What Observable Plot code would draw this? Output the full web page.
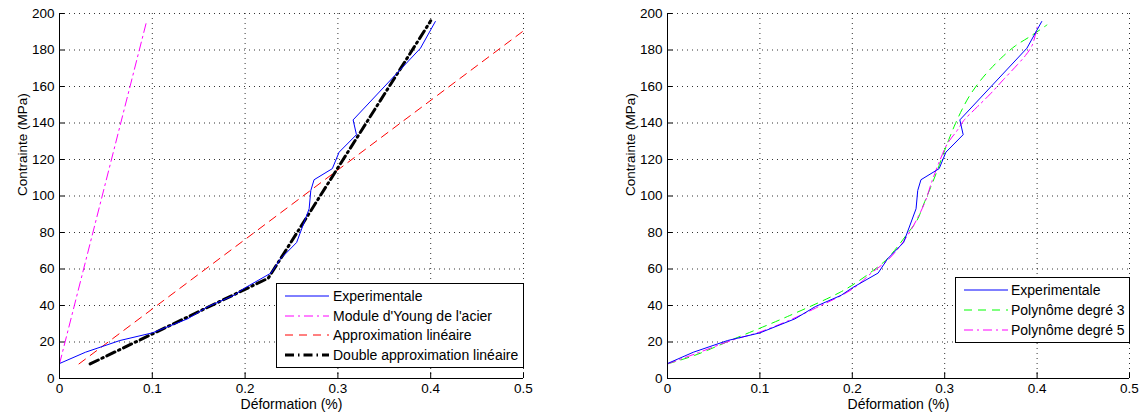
<!DOCTYPE html>
<html><head><meta charset="utf-8">
<script src="https://cdn.jsdelivr.net/npm/d3@7"></script>
<script src="https://cdn.jsdelivr.net/npm/@observablehq/plot@0.6"></script>
<style>
body{margin:0;background:#fff;font-family:"Liberation Sans",Arial,sans-serif;}
#wrap{position:relative;width:1143px;height:419px;overflow:hidden;background:#fff}
.panel{position:absolute;top:0}
.legend{position:absolute;border:1px solid #000;background:#fff;box-sizing:border-box;font-size:14px;color:#000}
.legend .row{position:absolute;left:0;height:20px;line-height:20px;white-space:nowrap}
.legend svg{position:absolute;top:0}
.legend span{position:absolute;top:0}
</style></head><body><div id="wrap"></div>
<script>
// ---- data ----
const xTicks = [0, 0.1, 0.2, 0.3, 0.4, 0.5];
const yTicks = [0, 20, 40, 60, 80, 100, 120, 140, 160, 180, 200];
const xLabel = "Déformation (%)";
const yLabel = "Contrainte (MPa)";

const expX = [0, 0.028, 0.065, 0.1, 0.138, 0.16, 0.188, 0.2, 0.228, 0.238, 0.2555, 0.269, 0.2708, 0.2743, 0.294, 0.3013, 0.32, 0.3164, 0.389, 0.405];
const expY = [8.2, 14.4, 20.8, 25, 32.7, 39.4, 45.6, 49.7, 57.8, 65.5, 74.5, 93, 103, 108.9, 115, 124, 133.6, 141.7, 181, 195.6];

const youngX = [0, 0.0935];
const youngY = [8, 195];

const linX = [0.021, 0.5];
const linY = [8, 190.5];

const dblX = [0.033, 0.225, 0.4];
const dblY = [8, 55, 196];

const poly3X = [0, 0.029, 0.072, 0.13, 0.187, 0.205, 0.22, 0.236, 0.2486, 0.2595, 0.27, 0.2774, 0.2846, 0.292, 0.2985, 0.3045, 0.3117, 0.319, 0.327, 0.3387, 0.3495, 0.362, 0.3765, 0.3927, 0.4106];
const poly3Y = [8, 12.6, 21.7, 34, 47.3, 52.8, 58.2, 64.7, 72, 79.3, 86.6, 95.7, 104.5, 114, 123, 131, 139.8, 147.6, 155, 163.3, 169.6, 176, 182.3, 187.5, 193.7];

const poly5X = [0, 0.03, 0.07, 0.1, 0.13, 0.16, 0.2, 0.2216, 0.238, 0.2522, 0.263, 0.272, 0.2793, 0.2865, 0.2955, 0.3027, 0.3135, 0.3207, 0.335, 0.3495, 0.364, 0.3784, 0.3874, 0.3946, 0.4];
const poly5Y = [8, 13.5, 21, 25.5, 31.5, 38.5, 49, 58.2, 64.7, 72.9, 81, 89.3, 97.5, 108.5, 120.4, 128.5, 135.9, 141.4, 148.7, 156, 164, 171.8, 177, 182.5, 192.5];

const leftNames = ["Experimentale", "Module d'Young de l'acier", "Approximation linéaire", "Double approximation linéaire"];
const rightNames = ["Experimentale", "Polynôme degré 3", "Polynôme degré 5"];

// ---- helpers ----
const tbl = (xs, ys) => xs.map((x, i) => ({x, y: ys[i]}));
const styles = {
  exp:   {stroke: "#0000ff", strokeWidth: 1},
  young: {stroke: "#ff00ff", strokeWidth: 1, strokeDasharray: "9,4,2,4"},
  lin:   {stroke: "#ff0000", strokeWidth: 1, strokeDasharray: "8,6"},
  dbl:   {stroke: "#000000", strokeWidth: 3, strokeDasharray: "9,4,1.5,4"},
  p3:    {stroke: "#00ff00", strokeWidth: 1, strokeDasharray: "8,6"},
  p5:    {stroke: "#ff00ff", strokeWidth: 1, strokeDasharray: "9,4,2,4"}
};

function panel(width, marginLeft, marginRight, lines) {
  return Plot.plot({
    width, height: 419, marginTop: 13, marginBottom: 41, marginLeft, marginRight,
    style: {fontFamily: "'Liberation Sans', Arial, sans-serif", fontSize: "13.5px", background: "white", color: "#000"},
    x: {domain: [0, 0.5]},
    y: {domain: [0, 200]},
    marks: [
      Plot.gridX(xTicks, {stroke: "#000", strokeOpacity: 0.8, strokeDasharray: "1,4"}),
      Plot.gridY(yTicks, {stroke: "#000", strokeOpacity: 0.8, strokeDasharray: "1,4"}),
      Plot.ruleX(xTicks, {y1: 0, y2: 3.2, stroke: "#000"}),
      Plot.ruleY(yTicks, {x1: 0, x2: 0.006, stroke: "#000"}),
      ...lines.map(([xs, ys, st, curve]) => Plot.line(tbl(xs, ys), {x: "x", y: "y", ...st, curve: curve || "linear", clip: true})),
      Plot.ruleX([0], {stroke: "#000"}),
      Plot.ruleY([0], {stroke: "#000"}),
      Plot.axisX(xTicks, {tickSize: 0, tickPadding: 5, tickFormat: d => String(d), label: null, fontSize: 13.5}),
      Plot.axisY(yTicks, {tickSize: 0, tickPadding: 5, tickFormat: d => String(d), label: null, fontSize: 13.5}),
      Plot.text([yLabel], {text: d => d, frameAnchor: "left", dx: -37, rotate: -90, fontSize: 13.5}),
      Plot.text([xLabel], {text: d => d, frameAnchor: "bottom", dy: 30, fontSize: 14})
    ]
  });
}

const wrap = document.getElementById("wrap");

const left = panel(571, 59, 48, [
  [youngX, youngY, styles.young],
  [linX, linY, styles.lin],
  [dblX, dblY, styles.dbl],
  [expX, expY, styles.exp]
]);
left.classList.add("panel");
left.style.left = "0px";
wrap.appendChild(left);

const right = panel(571, 95, 14, [
  [poly3X, poly3Y, styles.p3, "catmull-rom"],
  [poly5X, poly5Y, styles.p5, "catmull-rom"],
  [expX, expY, styles.exp]
]);
right.classList.add("panel");
right.style.left = "572px";
wrap.appendChild(right);

function legend(left, top, width, height, names, sts, rowTops, sampleX, textX) {
  const box = document.createElement("div");
  box.className = "legend";
  Object.assign(box.style, {left: left + "px", top: top + "px", width: width + "px", height: height + "px"});
  names.forEach((name, i) => {
    const row = document.createElement("div");
    row.className = "row";
    row.style.top = rowTops[i] + "px";
    const st = sts[i];
    const svg = document.createElementNS("http://www.w3.org/2000/svg", "svg");
    svg.setAttribute("width", 44); svg.setAttribute("height", 20);
    svg.style.left = sampleX + "px";
    const ln = document.createElementNS("http://www.w3.org/2000/svg", "line");
    ln.setAttribute("x1", 0); ln.setAttribute("x2", 44); ln.setAttribute("y1", 10); ln.setAttribute("y2", 10);
    ln.setAttribute("stroke", st.stroke); ln.setAttribute("stroke-width", st.strokeWidth);
    if (st.strokeDasharray) ln.setAttribute("stroke-dasharray", st.strokeDasharray);
    svg.appendChild(ln);
    row.appendChild(svg);
    const sp = document.createElement("span");
    sp.style.left = textX + "px";
    sp.textContent = name;
    row.appendChild(sp);
    box.appendChild(row);
  });
  wrap.appendChild(box);
}

legend(276, 283, 248, 85, leftNames, [styles.exp, styles.young, styles.lin, styles.dbl], [2, 21.7, 41.4, 61], 8, 56);
legend(955, 277, 175, 66, rightNames, [styles.exp, styles.p3, styles.p5], [2, 22, 42], 8, 55);
</script></body></html>
